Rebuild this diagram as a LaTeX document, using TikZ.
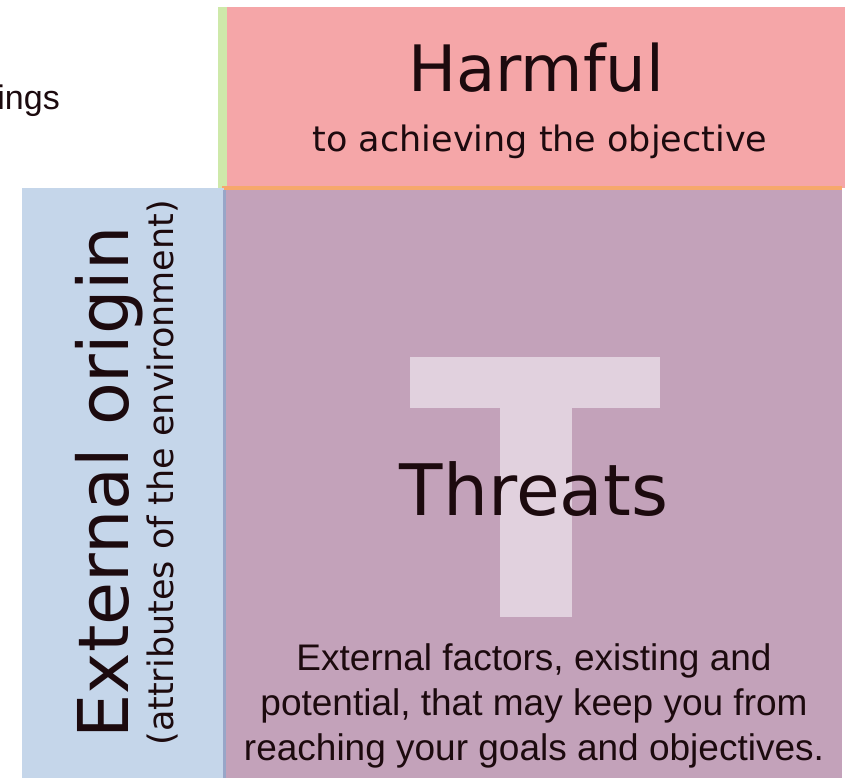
\documentclass[tikz,border=0pt]{standalone}
\usepackage{fontspec}
\newfontfamily\verafont{DejaVu Sans}
\newfontfamily\arialfont{Liberation Sans}
\definecolor{harmred}{RGB}{245,166,168}
\definecolor{harmgreen}{RGB}{206,233,170}
\definecolor{harmorange}{RGB}{246,168,108}
\definecolor{extblue}{RGB}{197,214,234}
\definecolor{extslate}{RGB}{152,166,200}
\definecolor{threatmauve}{RGB}{195,162,186}
\definecolor{threatglyph}{RGB}{225,209,222}
\definecolor{ink}{RGB}{28,10,14}

\tikzset{
    word/.style={inner sep=0pt, text=ink},
    bigword/.style={word, font=\verafont\fontsize{32}{36}\selectfont},
    subword/.style={word, font=\verafont\fontsize{17.5}{20}\selectfont},
    plainword/.style={word, font=\arialfont\fontsize{18.5}{22.5}\selectfont, align=center}
}

\begin{document}
\begin{tikzpicture}[x=0.5pt, y=-0.5pt]
        \useasboundingbox (0,0) rectangle (846,778);
        \fill [white] (0,0) rectangle (846,778);

        \fill [harmgreen] (218,7) rectangle (228,188);
        \fill [harmred] (227,7) rectangle (845,188);
        \fill [harmorange] (222,186) rectangle (842,190);
        \fill [extblue] (22,188) rectangle (224,778);
        \fill [extslate] (223,190) rectangle (226,778);
        \fill [threatmauve] (226,190) rectangle (842,778);
        \fill [threatglyph] (410,357) rectangle (660,408);
        \fill [threatglyph] (500,357) rectangle (572,617);

        \node [word, anchor=base west, font=\arialfont\fontsize{17}{20}\selectfont] (ings) at (-3,109) {ings};

        \node [bigword, anchor=base] (harmful) at (536,91) {Harmful};
        \node [subword, anchor=base] (objective) at (540,151) {to achieving the objective};

        \node [word, font=\verafont\fontsize{35}{40}\selectfont, rotate=90, anchor=base west] (external) at (128,739) {External origin};
        \node [subword, rotate=90, anchor=base west] (attributes) at (173,746) {(attributes of the environment)};

        \node [word, font=\verafont\fontsize{35.5}{40}\selectfont, anchor=base] (threats) at (534,515) {Threats};
        \node [plainword, anchor=base] (factors) at (534,760) {External factors, existing and\\potential, that may keep you from\\reaching your goals and objectives.};
    \end{tikzpicture}
\end{document}
